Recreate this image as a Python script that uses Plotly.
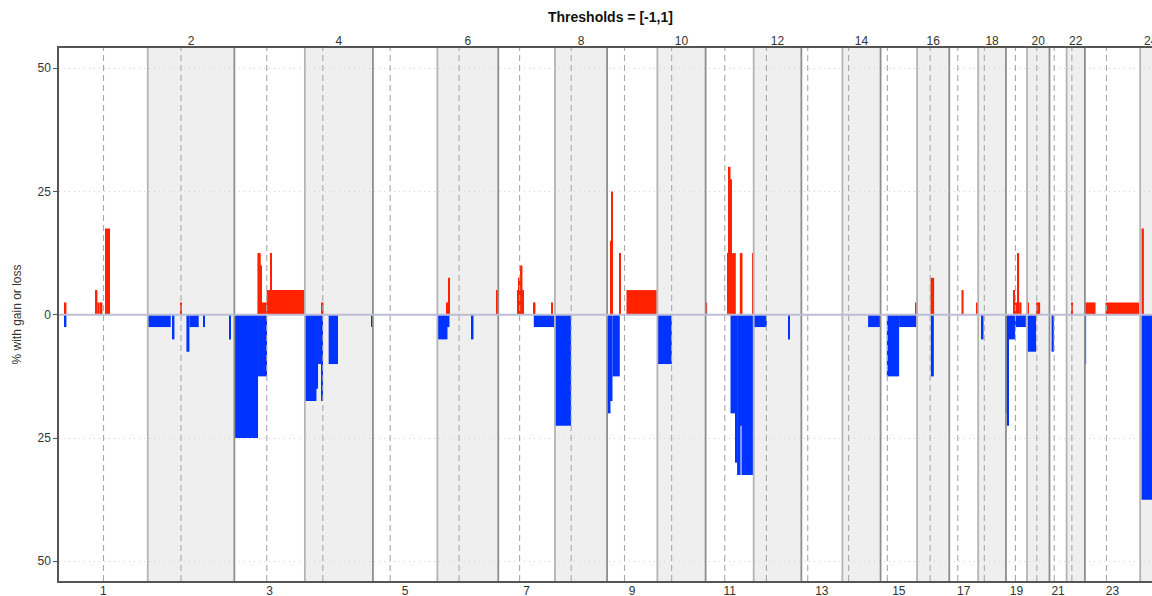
import plotly.graph_objects as go

# Chromosome layout (hg19 lengths and centromere midpoints, Mb)
chrom_names = [str(i) for i in range(1, 25)]
chrom_len_mb = [249.25, 243.20, 198.02, 191.15, 180.92, 171.12, 159.14, 146.36,
                141.21, 135.53, 135.01, 133.85, 115.17, 107.35, 102.53, 90.35,
                81.20, 78.08, 59.13, 63.03, 48.13, 51.30, 155.27, 59.37]
centromere_mb = [125.0, 93.3, 91.0, 50.4, 48.4, 61.0, 59.9, 45.6, 49.0, 40.2,
                 53.7, 35.8, 17.9, 17.6, 19.0, 36.6, 24.0, 17.2, 26.5, 27.5,
                 13.2, 14.7, 60.6, None]

# Gain segments: chromosome, start (Mb), end (Mb), % of samples
gain_chrom = [1, 1, 1, 1, 1,
              2,
              3, 3, 3, 3, 3, 3,
              4,
              6, 6, 6, 6,
              7, 7, 7, 7, 7, 7,
              9, 9, 9, 9,
              11, 11, 11, 11, 11, 11, 11,
              15, 16, 17, 17,
              19, 19, 19, 19,
              20, 20, 22, 23, 23, 24]
gain_start = [16.0, 103.1, 107.9, 117.1, 129.2,
              90.6,
              64.8, 74.1, 77.7, 90.9, 100.2, 103.0,
              45.4,
              26.4, 30.1, 31.7, 164.9,
              52.7, 57.5, 62.3, 67.9, 99.7, 148.2,
              9.6, 11.2, 33.7, 54.5,
              0.5, 62.3, 65.1, 69.9, 72.7, 96.0, 132.0,
              99.0, 37.7, 34.4, 75.4,
              20.1, 24.8, 33.2, 36.9,
              0.0, 25.5, 12.7, 0.0, 58.0, 3.9]
gain_end = [20.8, 107.9, 114.3, 121.9, 143.2,
            94.5,
            74.1, 77.7, 90.9, 100.2, 103.0, 198.0,
            52.2,
            30.1, 31.7, 34.0, 169.6,
            57.5, 62.3, 67.9, 70.7, 104.4, 153.0,
            11.2, 15.2, 37.6, 139.6,
            4.2, 65.1, 69.9, 72.7, 84.8, 103.6, 134.5,
            101.8, 47.8, 40.1, 80.2,
            24.8, 33.2, 36.9, 43.6,
            3.1, 36.8, 17.4, 29.9, 152.4, 10.4]
gain_pct = [2.5, 5, 2.5, 2.5, 17.5,
            2.5,
            12.5, 10, 2.5, 5, 12.5, 5,
            2.5,
            2.5, 5, 7.5, 5,
            5, 7.5, 10, 5, 2.5, 2.5,
            15, 25, 12.5, 5,
            2.5, 12.5, 30, 27.5, 12.5, 12.5, 12.5,
            2.5, 7.5, 5, 2.5,
            5, 2.5, 12.5, 2.5,
            2.5, 2.5, 2.5, 2.5, 2.5, 17.5]

# Loss segments: chromosome, start (Mb), end (Mb), % of samples
loss_chrom = [1,
              2, 2, 2, 2, 2, 2,
              3, 3,
              4, 4, 4, 4, 4, 4,
              6, 6, 6,
              7, 8,
              9, 9, 9,
              10,
              11, 11, 11, 11, 11,
              12, 12,
              14, 15, 15, 16, 18,
              19, 19, 19, 19,
              20, 21, 23, 24]
loss_start = [16.0,
              0.0, 70.1, 108.6, 117.0, 157.2, 228.2,
              0.0, 66.5,
              0.0, 32.5, 37.0, 45.4, 66.8, 186.8,
              0.0, 28.4, 96.6,
              99.7, 0.0,
              0.0, 9.6, 15.2,
              0.0,
              69.9, 82.8, 88.4, 98.0, 100.8,
              0.0, 96.6,
              72.3, 17.5, 52.0, 38.6, 9.4,
              0.0, 2.9, 6.0, 25.7,
              0.0, 5.8, 0.0, 3.9]
loss_end = [20.8,
            64.5, 74.9, 117.0, 143.1, 160.8, 232.2,
            66.5, 91.8,
            32.5, 37.0, 45.4, 50.2, 93.0, 190.2,
            28.4, 34.0, 101.4,
            156.7, 45.2,
            9.6, 15.2, 35.7,
            40.5,
            82.8, 88.4, 98.0, 100.8, 134.5,
            36.8, 101.4,
            106.0, 52.0, 100.9, 47.0, 15.0,
            2.9, 6.0, 25.7, 55.7,
            25.5, 12.2, 3.5, 59.0]
loss_pct = [2.5,
            2.5, 5, 7.5, 2.5, 2.5, 5,
            25, 12.5,
            17.5, 15, 10, 17.5, 10, 2.5,
            5, 2.5, 5,
            2.5, 22.5,
            20, 17.5, 12.5,
            10,
            20, 30, 32.5, 22.5, 32.5,
            2.5, 5,
            2.5, 12.5, 2.5, 12.5, 5,
            20, 22.5, 5, 2.5,
            7.5, 7.5, 10, 37.5]

y_tick_vals = [-50, -25, 0, 25, 50]
y_tick_text = ["50", "25", "0", "25", "50"]

GAIN_COLOR = "#ff2200"
LOSS_COLOR = "#0033ff"
FONT = "Liberation Sans, Arial, Helvetica, sans-serif"

# cumulative genome offsets
offsets = []
acc = 0.0
for L in chrom_len_mb:
    offsets.append(acc)
    acc += L
centers = [o + L / 2 for o, L in zip(offsets, chrom_len_mb)]


def to_bars(chroms, starts, ends):
    xs, ws = [], []
    for c, s, e in zip(chroms, starts, ends):
        off = offsets[c - 1]
        xs.append(off + (s + e) / 2)
        ws.append(e - s)
    return xs, ws


gx, gw = to_bars(gain_chrom, gain_start, gain_end)
lx, lw = to_bars(loss_chrom, loss_start, loss_end)

fig = go.Figure()
fig.add_trace(go.Bar(x=gx, y=gain_pct, width=gw, marker_color=GAIN_COLOR,
                     marker_line_width=0, name="gain", showlegend=False))
fig.add_trace(go.Bar(x=lx, y=[-v for v in loss_pct], width=lw,
                     marker_color=LOSS_COLOR, marker_line_width=0,
                     name="loss", showlegend=False))
# anchor trace for the top axis carrying the even chromosome labels
fig.add_trace(go.Scatter(x=[0], y=[0], xaxis="x2", mode="markers",
                         marker=dict(opacity=0), showlegend=False,
                         hoverinfo="skip"))

shapes = []
# shaded even chromosomes
for i, (o, L) in enumerate(zip(offsets, chrom_len_mb)):
    if (i + 1) % 2 == 0:
        shapes.append(dict(type="rect", xref="x", yref="paper", x0=o, x1=o + L,
                           y0=0, y1=1, fillcolor="#efefef", line_width=0,
                           layer="below"))
# chromosome boundaries
for i in range(1, len(offsets)):
    col = "#b4b4b4" if (i + 1) % 2 == 0 else "#8e8e8e"
    shapes.append(dict(type="line", xref="x", yref="paper", x0=offsets[i],
                       x1=offsets[i], y0=0, y1=1,
                       line=dict(color=col, width=1.8), layer="above"))
# centromeres
for o, c in zip(offsets, centromere_mb):
    if c is None:
        continue
    shapes.append(dict(type="line", xref="x", yref="paper", x0=o + c, x1=o + c,
                       y0=0, y1=1,
                       line=dict(color="#a8a8a8", width=1.1, dash="6px,4px"),
                       layer="above"))
# zero line
shapes.append(dict(type="line", xref="paper", yref="y", x0=0, x1=1, y0=0, y1=0,
                   line=dict(color="#bdbdd6", width=2), layer="above"))

x_range = [0, 3069.5]
odd_idx = [i for i in range(24) if (i + 1) % 2 == 1]
even_idx = [i for i in range(24) if (i + 1) % 2 == 0]

fig.update_layout(
    width=1152, height=596,
    margin=dict(l=59, r=0, t=48, b=15, autoexpand=False),
    plot_bgcolor="white", paper_bgcolor="white",
    barmode="overlay",
    font=dict(family=FONT, size=12, color="#333333"),
    shapes=shapes,
    xaxis=dict(range=x_range, tickvals=[centers[i] for i in odd_idx],
               ticktext=[chrom_names[i] for i in odd_idx], ticks="",
               showgrid=False, zeroline=False, showline=True, mirror=True,
               linecolor="#555555", linewidth=1.5, automargin=False,
               ticklabeloverflow="allow", ticklabelstandoff=-2,
               tickfont=dict(size=12, color="#333333")),
    xaxis2=dict(range=x_range, overlaying="x", side="top",
                tickvals=[centers[i] for i in even_idx],
                ticktext=[chrom_names[i] for i in even_idx], ticks="",
                showgrid=False, zeroline=False, showline=False,
                automargin=False, ticklabeloverflow="allow",
                tickfont=dict(size=12, color="#333333")),
    yaxis=dict(range=[-54.0, 54.1], tickvals=y_tick_vals, ticktext=y_tick_text,
               ticks="outside", ticklen=4, tickcolor="#555555",
               showgrid=True, gridcolor="#d2d2d2", griddash="1px,4px",
               gridwidth=1.2,
               zeroline=False, showline=True, linecolor="#555555",
               linewidth=1.5, automargin=False,
               tickfont=dict(size=12, color="#333333")),
    annotations=[
        dict(text="<b>Thresholds = [-1,1]</b>", xref="paper", yref="paper",
             x=(610 - 59) / 1093, y=1, yshift=31, showarrow=False,
             xanchor="center", yanchor="middle",
             font=dict(size=14, color="#111111", family=FONT)),
        dict(text="% with gain or loss", xref="paper", yref="paper",
             x=-43 / 1093, y=0.5, showarrow=False, textangle=-90,
             xanchor="center", yanchor="middle",
             font=dict(size=12, color="#333333", family=FONT)),
    ],
)

fig.write_html("out.html")
